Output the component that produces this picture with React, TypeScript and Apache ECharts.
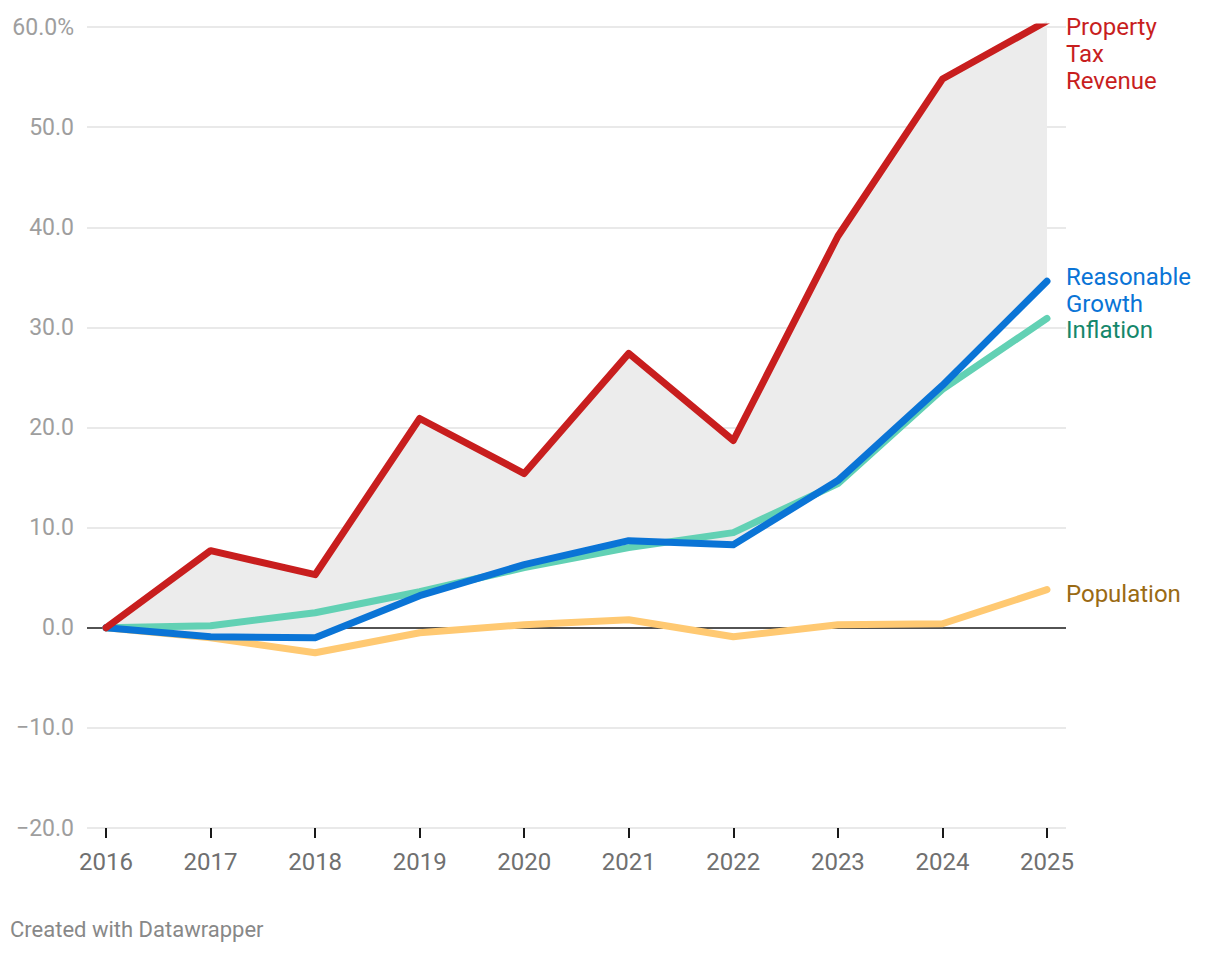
import React, { useEffect, useRef } from "react";
import * as echarts from "echarts";

const years = [2016, 2017, 2018, 2019, 2020, 2021, 2022, 2023, 2024, 2025];
const propertyTax = [0, 7.7, 5.3, 20.9, 15.4, 27.4, 18.7, 39.1, 54.8, 60.6];
const reasonableGrowth = [0, -0.9, -1.0, 3.2, 6.3, 8.7, 8.3, 14.7, 24.2, 34.6];
const inflation = [0, 0.2, 1.5, 3.6, 6.0, 8.0, 9.5, 14.4, 23.8, 30.9];
const population = [0, -1.0, -2.5, -0.5, 0.3, 0.8, -0.9, 0.3, 0.4, 3.8];

const FONT = "Roboto, 'Noto Sans', sans-serif";

const pairs = (vals: number[]) => years.map((y, i) => [y, vals[i]]);

export default function App() {
  const ref = useRef<HTMLDivElement>(null);
  useEffect(() => {
    if (!ref.current) return;
    const chart = echarts.init(ref.current, null, { renderer: "svg" });
    const gray = "#e2e2e2";
    const splitColors = [gray, gray, "#1a1a1a", gray, gray, gray, gray, gray, gray];
    const lineBase = (color: string, width = 7) => ({
      type: "line" as const,
      showSymbol: false,
      symbol: "none",
      lineStyle: { color, width, cap: "round", join: "round" },
      z: 3,
    });
    const endLabel = (text: string, color: string, dy: number) => ({
      show: true,
      formatter: text,
      color,
      fontFamily: FONT,
      fontSize: 24,
      lineHeight: 27,
      distance: 19,
      offset: [0, dy],
      align: "left",
      verticalAlign: "middle",
    });
    chart.setOption({
      animation: false,
      backgroundColor: "#ffffff",
      grid: { left: 87, right: 154, top: 27, bottom: 126, containLabel: false },
      xAxis: {
        type: "value",
        min: 2015.818,
        max: 2025.182,
        axisLine: { show: false, onZero: false },
        splitLine: { show: false },
        axisTick: {
          show: true,
          length: 10,
          customValues: years,
          lineStyle: { color: "#1a1a1a", width: 2 },
        },
        axisLabel: {
          customValues: years,
          color: "#707070",
          fontFamily: FONT,
          fontSize: 24,
          margin: 22,
          formatter: (v: number) => String(Math.round(v)),
        },
      },
      yAxis: {
        type: "value",
        min: -20,
        max: 60,
        interval: 10,
        axisLine: { show: false },
        axisTick: { show: false },
        splitLine: { show: true, lineStyle: { color: splitColors, width: 1.5 } },
        axisLabel: {
          color: "#9e9e9e",
          fontFamily: FONT,
          fontSize: 23,
          margin: 13,
          formatter: (v: number) => {
            const s = Math.abs(v).toFixed(1);
            const t = v < 0 ? "\u2212" + s : s;
            return v === 60 ? t + "%" : t;
          },
        },
      },
      series: [
        {
          type: "custom",
          name: "gap",
          silent: true,
          z: 1,
          data: [0],
          renderItem: (params: any, api: any) => {
            const top = years.map((y, i) => api.coord([y, propertyTax[i]]));
            const bottom = years
              .map((y, i) => api.coord([y, reasonableGrowth[i]]))
              .reverse();
            return {
              type: "polygon",
              shape: { points: top.concat(bottom) },
              style: { fill: "#ececec" },
            };
          },
        },
        {
          ...lineBase("#ffc972"),
          name: "Population",
          data: pairs(population),
          endLabel: endLabel("Population", "#9a6a14", 4),
        },
        {
          ...lineBase("#62d1b4"),
          name: "Inflation",
          data: pairs(inflation),
          endLabel: endLabel("Inflation", "#15876b", 12),
        },
        {
          ...lineBase("#0a74d6"),
          name: "Reasonable Growth",
          data: pairs(reasonableGrowth),
          endLabel: endLabel("Reasonable\nGrowth", "#0a74d6", 9),
        },
        {
          ...lineBase("#c81e1e"),
          name: "Property Tax Revenue",
          data: pairs(propertyTax),
          endLabel: endLabel("Property\nTax\nRevenue", "#c81e1e", 33),
        },
      ],
      graphic: [
        {
          type: "text",
          left: 10,
          top: 918,
          style: {
            text: "Created with Datawrapper",
            fill: "#888888",
            font: `22px ${FONT}`,
          },
        },
      ],
    });
    return () => chart.dispose();
  }, []);
  return (
    <div
      ref={ref}
      style={{ position: "fixed", left: 0, top: 0, width: 1220, height: 954, background: "#fff" }}
    />
  );
}
